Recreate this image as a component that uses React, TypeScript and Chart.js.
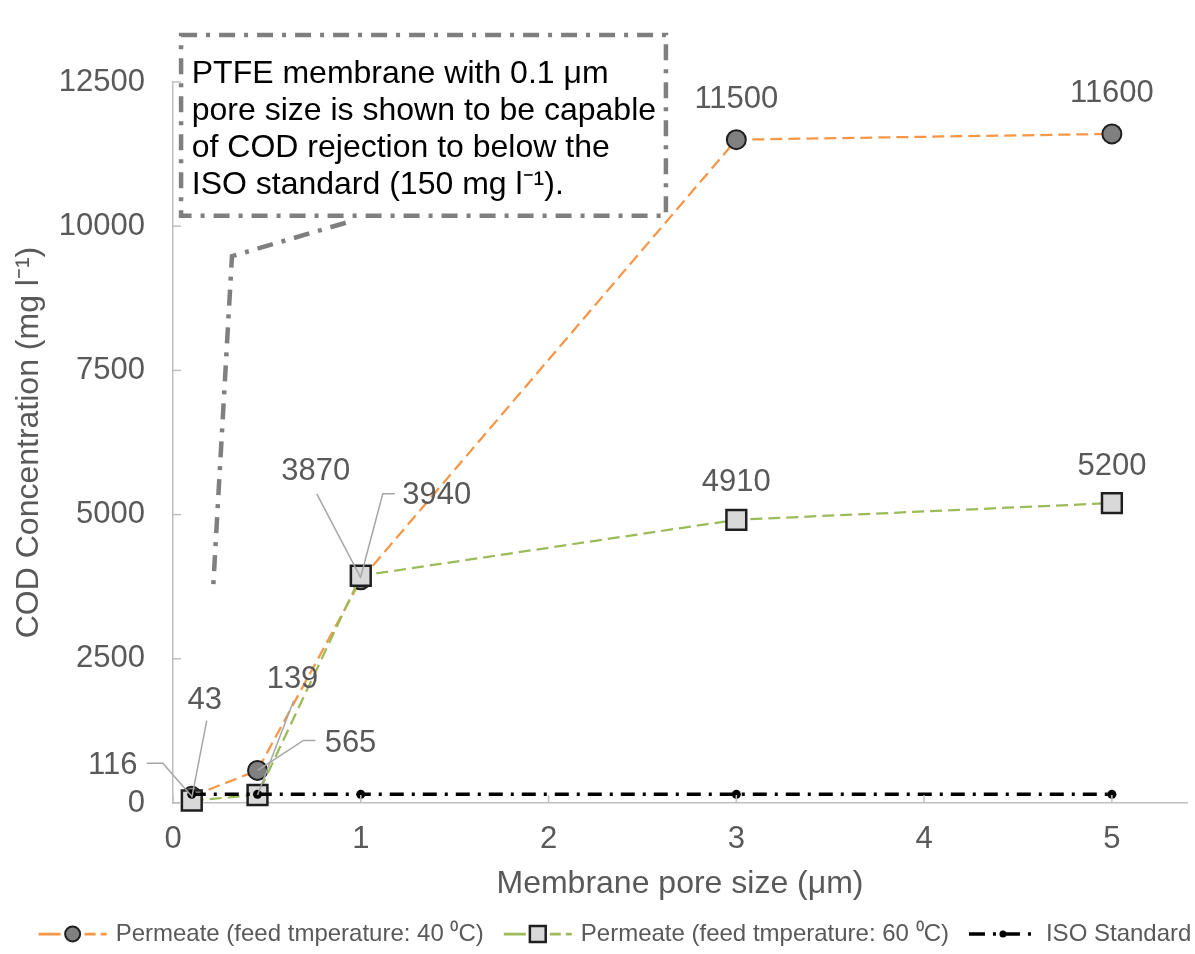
import React, { useEffect, useRef } from 'react';
import { Chart, registerables } from 'chart.js';

Chart.register(...registerables);

// ---------------- data ----------------
const poreSizes = [0.1, 0.45, 1, 3, 5];
const cod40 = [116, 565, 3870, 11500, 11600];
const cod60 = [43, 139, 3940, 4910, 5200];
const isoStandard = [150, 150, 150, 150, 150];
const xTickValues = [0, 1, 2, 3, 4, 5];
const yTickValues = [0, 2500, 5000, 7500, 10000, 12500];
const seriesNames = [
  'Permeate (feed tmperature: 40 \u2070C)',
  'Permeate (feed tmperature: 60 \u2070C)',
  'ISO Standard',
];
const noteLines = [
  'PTFE membrane with 0.1 \u03bcm',
  'pore size is shown to be capable',
  'of COD rejection to below the',
  'ISO standard (150 mg l\u207b\u00b9).',
];
const xTitle = 'Membrane pore size (\u03bcm)';
const yTitle = 'COD Concentration (mg l\u207b\u00b9)';

// ---------------- layout / style ----------------
const FONT = "'Liberation Sans', Arial, Helvetica, sans-serif";
const TEXT_GREY = '#595959';
const AXIS_GREY = '#bfbfbf';
const LEADER_GREY = '#a6a6a6';

// label offsets (pixels, relative to the point) and leader polylines
const labelLayout40 = [
  { dx: -79, dy: -31, leader: [[-45, -33], [-29, -33], [0, 0]] },
  { dx: 93, dy: -27, leader: [[58, -30], [46, -30], [0, 0]] },
  { dx: -45, dy: -108, leader: [[-44, -86], [0, -2]] },
  { dx: 0, dy: -40, leader: null },
  { dx: 0, dy: -40, leader: null },
];
const labelLayout60 = [
  { dx: 13, dy: -100, leader: [[15, -80], [0, -3]] },
  { dx: 35, dy: -116, leader: [[36, -94], [0, 0]] },
  { dx: 76, dy: -80, leader: [[34, -82], [22, -82], [0, 1]] },
  { dx: 0, dy: -37, leader: null },
  { dx: 0, dy: -37, leader: null },
];

// annotation box & callout, in data units
const noteBox = { x0: 0.043, x1: 2.625, y0: 10180, y1: 13315, textX: 0.1 };
const calloutPath = [
  [0.92, 10060],
  [0.314, 9480],
  [0.213, 3690],
];

const styles = [
  { color: '#F79646', dash: [12, 6], width: 2.25, pointStyle: 'circle', radius: 9.5, fill: '#808080', border: '#1f1f1f', bw: 2, legendR: 7.5 },
  { color: '#9BBB59', dash: [12, 6], width: 2.25, pointStyle: 'rect', radius: 14, fill: '#D9D9D9', border: '#1f1f1f', bw: 2.5, legendR: 11 },
  { color: '#000000', dash: [14, 8, 3, 8], width: 3.5, pointStyle: 'circle', radius: 4.5, fill: '#000000', border: '#000000', bw: 0, legendR: 3.5 },
];

const pointLabelPlugin = {
  id: 'pointLabels',
  afterDatasetsDraw(chart: any) {
    const ctx = chart.ctx;
    const sets: any[] = [
      [0, cod40, labelLayout40],
      [1, cod60, labelLayout60],
    ];
    ctx.save();
    ctx.font = `31px ${FONT}`;
    ctx.fillStyle = TEXT_GREY;
    ctx.textAlign = 'center';
    ctx.textBaseline = 'middle';
    sets.forEach(([di, vals, lay]) => {
      const meta = chart.getDatasetMeta(di);
      meta.data.forEach((pt: any, i: number) => {
        const L = lay[i];
        if (L.leader) {
          ctx.beginPath();
          ctx.setLineDash([]);
          ctx.strokeStyle = LEADER_GREY;
          ctx.lineWidth = 1.5;
          L.leader.forEach((p: number[], k: number) => {
            if (k === 0) ctx.moveTo(pt.x + p[0], pt.y + p[1]);
            else ctx.lineTo(pt.x + p[0], pt.y + p[1]);
          });
          ctx.stroke();
        }
        ctx.fillText(String(vals[i]), pt.x + L.dx, pt.y + L.dy);
      });
    });
    ctx.restore();
  },
};

const decorPlugin = {
  id: 'decor',
  afterDraw(chart: any) {
    const ctx = chart.ctx;
    const xs = chart.scales.x;
    const ys = chart.scales.y;
    const area = chart.chartArea;
    ctx.save();
    // inside tick marks
    ctx.strokeStyle = AXIS_GREY;
    ctx.lineWidth = 1.5;
    ctx.setLineDash([]);
    yTickValues.forEach((v) => {
      const y = ys.getPixelForValue(v);
      ctx.beginPath();
      ctx.moveTo(area.left, y);
      ctx.lineTo(area.left + 8, y);
      ctx.stroke();
    });
    xTickValues.forEach((v) => {
      const x = xs.getPixelForValue(v);
      ctx.beginPath();
      ctx.moveTo(x, area.bottom);
      ctx.lineTo(x, area.bottom - 8);
      ctx.stroke();
    });

    // annotation box
    const bx0 = xs.getPixelForValue(noteBox.x0);
    const bx1 = xs.getPixelForValue(noteBox.x1);
    const by0 = ys.getPixelForValue(noteBox.y1);
    const by1 = ys.getPixelForValue(noteBox.y0);
    ctx.fillStyle = '#ffffff';
    ctx.fillRect(bx0, by0, bx1 - bx0, by1 - by0);
    ctx.strokeStyle = '#7f7f7f';
    ctx.lineWidth = 4.5;
    ctx.setLineDash([16, 9, 4, 9]);
    ctx.strokeRect(bx0, by0, bx1 - bx0, by1 - by0);
    // callout
    ctx.beginPath();
    calloutPath.forEach((p, k) => {
      const px = xs.getPixelForValue(p[0]);
      const py = ys.getPixelForValue(p[1]);
      if (k === 0) ctx.moveTo(px, py);
      else ctx.lineTo(px, py);
    });
    ctx.stroke();
    ctx.setLineDash([]);
    ctx.fillStyle = '#000000';
    ctx.font = `32px ${FONT}`;
    ctx.textAlign = 'left';
    ctx.textBaseline = 'alphabetic';
    const tx = xs.getPixelForValue(noteBox.textX);
    noteLines.forEach((line, k) => {
      ctx.fillText(line, tx, by0 + 48 + k * 37);
    });

    // legend
    ctx.font = `24px ${FONT}`;
    const symW = 68;
    const gapText = 9;
    const gapItem = 20;
    const widths = seriesNames.map((n) => ctx.measureText(n).width);
    const total = widths.reduce((a, w) => a + w + symW + gapText, 0) + gapItem * (seriesNames.length - 1);
    let lx = 615 - total / 2;
    const ly = 934;
    seriesNames.forEach((name, i) => {
      const s = styles[i];
      ctx.beginPath();
      ctx.strokeStyle = s.color;
      ctx.lineWidth = s.width + (i === 2 ? 0 : 0.5);
      ctx.setLineDash(i === 2 ? [16, 8, 3, 8] : [22, 9, 10, 5, 11, 5]);
      ctx.moveTo(lx, ly);
      ctx.lineTo(lx + symW, ly);
      ctx.stroke();
      ctx.setLineDash([]);
      const cx = lx + symW / 2;
      ctx.fillStyle = s.fill;
      ctx.strokeStyle = s.border;
      ctx.lineWidth = s.bw;
      ctx.beginPath();
      if (s.pointStyle === 'rect') {
        const h = s.legendR * 0.72;
        ctx.rect(cx - h, ly - h, 2 * h, 2 * h);
      } else {
        ctx.arc(cx, ly, s.legendR, 0, Math.PI * 2);
      }
      ctx.fill();
      if (s.bw > 0) ctx.stroke();
      ctx.fillStyle = TEXT_GREY;
      ctx.textAlign = 'left';
      ctx.textBaseline = 'middle';
      ctx.fillText(name, lx + symW + gapText, ly);
      lx += symW + gapText + widths[i] + gapItem;
    });
    ctx.restore();
  },
};

export default function App() {
  const canvasRef = useRef<HTMLCanvasElement | null>(null);

  useEffect(() => {
    document.body.style.margin = '0';
    const canvas = canvasRef.current;
    if (!canvas) return;
    const mk = (vals: number[], i: number, order: number) => ({
      label: seriesNames[i],
      data: poreSizes.map((x, k) => ({ x, y: vals[k] })),
      borderColor: styles[i].color,
      borderDash: styles[i].dash,
      borderWidth: styles[i].width,
      pointStyle: styles[i].pointStyle,
      pointRadius: styles[i].radius,
      pointHoverRadius: styles[i].radius,
      pointBackgroundColor: styles[i].fill,
      pointBorderColor: styles[i].border,
      pointBorderWidth: styles[i].bw,
      tension: 0,
      fill: false,
      clip: false as any,
      order,
    });
    const chart = new Chart(canvas, {
      type: 'line',
      data: {
        datasets: [mk(cod40, 0, 2), mk(cod60, 1, 1), mk(isoStandard, 2, 0)] as any,
      },
      options: {
        responsive: false,
        maintainAspectRatio: false,
        animation: false,
        layout: { autoPadding: false, padding: { left: 0, right: 8, top: 82, bottom: 50 } },
        plugins: {
          legend: { display: false },
          tooltip: { enabled: false },
        },
        scales: {
          x: {
            type: 'linear',
            min: 0,
            max: 5.4,
            afterBuildTicks: (s: any) => {
              s.ticks = xTickValues.map((v) => ({ value: v }));
            },
            afterFit: (s: any) => {
              s.height = 101;
              s.paddingRight = 0;
              s.paddingLeft = 0;
            },
            grid: { display: false, drawTicks: false },
            border: { display: true, color: AXIS_GREY, width: 1.5 },
            ticks: {
              font: { family: FONT, size: 31 },
              color: TEXT_GREY,
              padding: 18,
              maxRotation: 0,
              callback: (v: any) => String(v),
            },
            title: {
              display: true,
              text: xTitle,
              font: { family: FONT, size: 32 },
              color: TEXT_GREY,
              padding: { top: 0, bottom: 1 },
            },
          },
          y: {
            type: 'linear',
            min: 0,
            max: 12500,
            afterBuildTicks: (s: any) => {
              s.ticks = yTickValues.map((v) => ({ value: v }));
            },
            afterFit: (s: any) => {
              s.width = 173;
              s.paddingTop = 0;
              s.paddingBottom = 0;
            },
            grid: { display: false, drawTicks: false },
            border: { display: true, color: AXIS_GREY, width: 1.5 },
            ticks: {
              font: { family: FONT, size: 31 },
              color: TEXT_GREY,
              padding: 28,
              callback: (v: any) => String(v),
            },
            title: {
              display: true,
              text: yTitle,
              font: { family: FONT, size: 32 },
              color: TEXT_GREY,
              padding: { top: 10, bottom: 0 },
            },
          },
        },
      } as any,
      plugins: [pointLabelPlugin, decorPlugin],
    });
    return () => chart.destroy();
  }, []);

  return (
    <div style={{ width: 1195, height: 954, background: '#ffffff' }}>
      <canvas ref={canvasRef} width={1195} height={954} style={{ display: 'block' }} />
    </div>
  );
}
